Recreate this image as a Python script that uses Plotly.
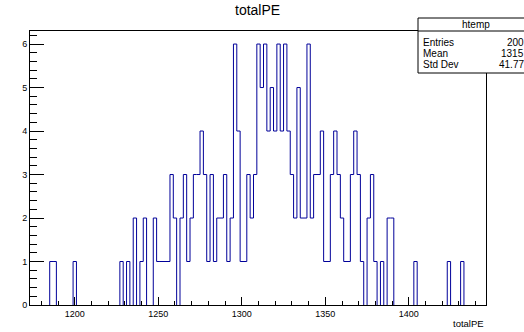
import numpy as np
import plotly.graph_objects as go

# ---------------- data ----------------
x_min = 1173
bin_width = 2
# counts per bin, bins of width 2 starting at x_min (keyed by bin low edge)
filled = {
    1185: 1, 1187: 1, 1199: 1, 1227: 1, 1231: 1, 1235: 2, 1239: 1, 1241: 2,
    1247: 2, 1249: 1, 1251: 1, 1253: 1, 1255: 1, 1257: 3, 1259: 2, 1263: 2,
    1265: 3, 1267: 1, 1269: 2, 1271: 3, 1273: 3, 1275: 4, 1277: 3, 1279: 1,
    1281: 3, 1283: 1, 1285: 2, 1287: 2, 1289: 3, 1291: 1, 1293: 2, 1295: 6,
    1297: 4, 1299: 1, 1301: 1, 1303: 3, 1305: 2, 1307: 3, 1309: 6, 1311: 5,
    1313: 6, 1315: 4, 1317: 5, 1319: 4, 1321: 6, 1323: 4, 1325: 6, 1327: 4,
    1329: 3, 1331: 2, 1333: 5, 1335: 2, 1337: 2, 1339: 6, 1341: 2, 1343: 3,
    1345: 3, 1347: 4, 1349: 1, 1351: 1, 1353: 3, 1355: 4, 1357: 3, 1359: 2,
    1361: 1, 1363: 1, 1365: 3, 1367: 4, 1369: 3, 1371: 1, 1375: 2, 1377: 3,
    1379: 1, 1383: 1, 1387: 2, 1389: 2, 1403: 1, 1423: 1, 1431: 1,
}
n_bins = 136
counts = [filled.get(x_min + bin_width * i, 0) for i in range(n_bins)]

x_tick_vals = [1200, 1250, 1300, 1350, 1400]
y_tick_vals = [0, 1, 2, 3, 4, 5, 6]
title_text = "totalPE"
x_title = "totalPE"
stats_name = "htemp"
stats_labels = ["Entries", "Mean", "Std Dev"]
stats_values = ["200", "1315", "41.77"]

# ---------------- geometry ----------------
W, H = 524, 332
L, R, T, B = 30, 486, 31, 305
x_range = [1173.2, 1446.2]
y_range = [0, 6.3]

def px(x):
    return (x - L) / (R - L)

def py(y):
    return (B - y) / (B - T)

FONT = "Liberation Sans, Arial, Helvetica, sans-serif"
LINE_COLOR = "#000099"

edges = x_min + bin_width * np.arange(n_bins + 1)

# outline path: one polyline per run of non-empty bins (nothing drawn along zero)
xs, ys = [], []
i = 0
while i < n_bins:
    if counts[i] == 0:
        i += 1
        continue
    xs.append(edges[i]); ys.append(0)
    while i < n_bins and counts[i] > 0:
        xs += [edges[i], edges[i + 1]]
        ys += [counts[i], counts[i]]
        i += 1
    xs.append(edges[i]); ys.append(0)
    xs.append(None); ys.append(None)

fig = go.Figure()
fig.add_trace(go.Scatter(
    x=xs, y=ys, mode="lines", connectgaps=False,
    line=dict(color=LINE_COLOR, width=1),
    hoverinfo="skip", showlegend=False,
))

fig.update_layout(
    width=W, height=H,
    margin=dict(l=L, r=W - R, t=T, b=H - B, pad=0),
    paper_bgcolor="white", plot_bgcolor="white",
    font=dict(family=FONT, size=9, color="black"),
    showlegend=False,
)

fig.update_xaxes(
    range=x_range, showgrid=False, zeroline=False,
    showline=True, linecolor="black", linewidth=1, mirror=True,
    ticks="inside", ticklen=8, tickcolor="black", tickwidth=1,
    tickvals=x_tick_vals, ticktext=[str(v) for v in x_tick_vals],
    tickfont=dict(size=9, family=FONT),
    minor=dict(dtick=10, tick0=1200, ticks="inside", ticklen=4, tickcolor="black", showgrid=False),
    layer="above traces",
)
fig.update_yaxes(
    range=y_range, showgrid=False, zeroline=False,
    showline=True, linecolor="black", linewidth=1, mirror=True,
    ticks="inside", ticklen=14, tickcolor="black", tickwidth=1,
    tickvals=y_tick_vals, ticktext=[str(v) for v in y_tick_vals],
    tickfont=dict(size=9, family=FONT),
    minor=dict(dtick=0.2, tick0=0, ticks="inside", ticklen=7, tickcolor="black", showgrid=False),
    layer="above traces",
)

annotations = []
annotations.append(dict(
    text=title_text, xref="paper", yref="paper", x=px(257), y=py(10),
    xanchor="center", yanchor="middle", showarrow=False,
    font=dict(size=14, family=FONT, color="black"),
))
annotations.append(dict(
    text=x_title, xref="paper", yref="paper", x=px(486), y=py(323),
    xanchor="right", yanchor="middle", showarrow=False,
    font=dict(size=9.5, family=FONT, color="black"),
))

# stats box
box_l, box_r, box_t, box_sep, box_b = 418, 534, 18, 31, 73
shapes = [
    dict(type="rect", xref="paper", yref="paper",
         x0=px(box_l), x1=px(box_r), y0=py(box_b), y1=py(box_t),
         line=dict(color="black", width=1), fillcolor="white", layer="above"),
    dict(type="line", xref="paper", yref="paper",
         x0=px(box_l), x1=px(box_r), y0=py(box_sep), y1=py(box_sep),
         line=dict(color="black", width=1), layer="above"),
]
annotations.append(dict(
    text=stats_name, xref="paper", yref="paper", x=px(476), y=py(24.5),
    xanchor="center", yanchor="middle", showarrow=False,
    font=dict(size=10, family=FONT, color="black"),
))
row_y = [42, 53.5, 65]
for lab, val, yy in zip(stats_labels, stats_values, row_y):
    annotations.append(dict(
        text=lab, xref="paper", yref="paper", x=px(420.5), y=py(yy),
        xanchor="left", yanchor="middle", showarrow=False,
        font=dict(size=10, family=FONT, color="black"),
    ))
    annotations.append(dict(
        text=val, xref="paper", yref="paper", x=px(526), y=py(yy),
        xanchor="right", yanchor="middle", showarrow=False,
        font=dict(size=10, family=FONT, color="black"),
    ))

fig.update_layout(annotations=annotations, shapes=shapes)
fig.write_html("out.html")
